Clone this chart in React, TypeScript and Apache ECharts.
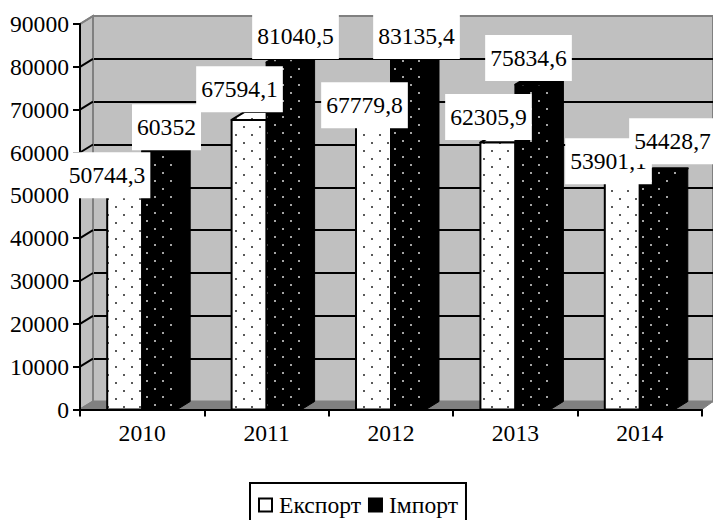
import React, { useEffect, useRef } from "react";
import * as echarts from "echarts";

const years = ["2010", "2011", "2012", "2013", "2014"];
const exportValues = [50744.3, 67594.1, 67779.8, 62305.9, 53901.1];
const importValues = [60352, 81040.5, 83135.4, 75834.6, 54428.7];
const exportName = "Експорт";
const importName = "Імпорт";

// Manual placement of the data-label boxes relative to each bar's front top centre (layout only).
const exportLabelShift = [[-17.7, -17], [-9.6, -30.8], [-9, -14], [-9.4, -25.5], [-13.8, -17.4]];
const importLabelShift = [[6.8, -23.8], [11.4, -26.3], [8, -17.3], [-4.4, -26.6], [15.2, -35.1]];

const FONT = "Liberation Serif";
const FONT_SIZE = 23.6;
const DEPTH_X = 13;
const DEPTH_Y = 8;
const BAR_W = 35;
const FRONT = { left: 80, top: 24, width: 622, height: 385.5 };

function dotPattern(bg: string, dot: string, a: number[], b: number[]) {
  const c = document.createElement("canvas");
  c.width = 16;
  c.height = 16;
  const g = c.getContext("2d")!;
  g.fillStyle = bg;
  g.fillRect(0, 0, 16, 16);
  g.fillStyle = dot;
  [a, b].forEach(([x, y]) => {
    g.beginPath();
    g.arc(x, y, 1, 0, Math.PI * 2);
    g.fill();
  });
  return { image: c, repeat: "repeat" };
}

function barRenderer(side: -1 | 1, pattern: any) {
  return (_p: any, api: any) => {
    const top = api.coord([api.value(0), api.value(1)]);
    const base = api.coord([api.value(0), 0]);
    const x0 = side < 0 ? top[0] - BAR_W : top[0];
    const x1 = x0 + BAR_W;
    const style = { fill: pattern, stroke: "#000", lineWidth: 2, lineJoin: "round" };
    return {
      type: "group",
      children: [
        {
          type: "polygon",
          shape: { points: [[x1, top[1]], [x1 + DEPTH_X, top[1] - DEPTH_Y], [x1 + DEPTH_X, base[1] - DEPTH_Y], [x1, base[1]]] },
          style: { fill: "#000", stroke: "#000", lineWidth: 1 },
        },
        {
          type: "polygon",
          shape: { points: [[x0, top[1]], [x0 + DEPTH_X, top[1] - DEPTH_Y], [x1 + DEPTH_X, top[1] - DEPTH_Y], [x1, top[1]]] },
          style,
        },
        { type: "rect", shape: { x: x0, y: top[1], width: BAR_W, height: base[1] - top[1] }, style },
      ],
    };
  };
}

function labelRenderer(side: -1 | 1, shifts: number[][]) {
  return (params: any, api: any) => {
    const top = api.coord([api.value(0), api.value(1)]);
    const s = shifts[params.dataIndex];
    return {
      type: "text",
      style: {
        text: String(api.value(1)).replace(".", ","),
        x: top[0] + (side * BAR_W) / 2 + s[0],
        y: top[1] + s[1],
        align: "center",
        verticalAlign: "middle",
        fontFamily: FONT,
        fontSize: FONT_SIZE,
        fill: "#000",
        backgroundColor: "#fff",
        padding: [11, 5, 11, 5],
      },
    };
  };
}

function toData(values: number[]) {
  return values.map((v, i) => [i, v]);
}

export default function App() {
  const ref = useRef<HTMLDivElement>(null);
  useEffect(() => {
    const chart = echarts.init(ref.current!, null, { renderer: "svg" });
    const exportFill = dotPattern("#fff", "#222", [4, 15], [12, 7]);
    const importFill = dotPattern("#000", "#ddd", [3, 13], [11, 5]);
    const axisLine = { lineStyle: { color: "#000", width: 2 } };
    const labelStyle = { fontFamily: FONT, fontSize: FONT_SIZE, color: "#000" };
    const yBase = { type: "value", min: 0, max: 90000, interval: 10000, splitLine: { show: false } };
    chart.setOption({
      animation: false,
      backgroundColor: "#fff",
      grid: [
        { ...FRONT, show: false },
        {
          left: FRONT.left + DEPTH_X,
          top: FRONT.top - DEPTH_Y,
          width: 620,
          height: FRONT.height,
          show: true,
          backgroundColor: "#c0c0c0",
          borderColor: "#808080",
          borderWidth: 2,
        },
      ],
      xAxis: [
        {
          type: "category",
          gridIndex: 0,
          data: years,
          z: 3,
          axisLine: { show: true, ...axisLine },
          axisTick: { show: true, length: 7, lineStyle: { color: "#000", width: 2 } },
          axisLabel: { ...labelStyle, margin: 11 },
        },
        { type: "category", gridIndex: 1, data: years, show: false },
      ],
      yAxis: [
        {
          ...yBase,
          gridIndex: 0,
          z: 3,
          axisLine: { show: true, ...axisLine },
          axisTick: { show: true, length: 7, lineStyle: { color: "#000", width: 2 } },
          axisLabel: { show: false },
        },
        {
          ...yBase,
          gridIndex: 0,
          position: "left",
          z: 20,
          axisLine: { show: false },
          axisTick: { show: false },
          axisLabel: { ...labelStyle, margin: 11, formatter: (v: number) => String(v) },
        },
        {
          ...yBase,
          gridIndex: 1,
          axisLine: { show: false },
          axisTick: { show: false },
          axisLabel: { show: false },
          splitLine: { show: true, showMinLine: false, showMaxLine: false, lineStyle: { color: "#000", width: 2 } },
        },
      ],
      graphic: [
        {
          type: "polygon",
          z: 1,
          shape: { points: [[80, 24], [93, 16], [93, 401.5], [80, 409.5]] },
          style: { fill: "#c0c0c0", stroke: "#808080", lineWidth: 2 },
        },
        {
          type: "polygon",
          z: 1,
          shape: { points: [[80, 409.5], [93, 401.5], [713, 401.5], [702, 409.5]] },
          style: { fill: "#808080", stroke: "#808080", lineWidth: 1 },
        },
      ],
      legend: {
        data: [exportName, importName],
        left: 250,
        top: 483,
        orient: "horizontal",
        padding: [10, 8, 20, 8],
        borderColor: "#000",
        borderWidth: 2,
        borderRadius: 0,
        backgroundColor: "#fff",
        icon: "rect",
        itemWidth: 13,
        itemHeight: 13,
        itemGap: 7,
        selectedMode: false,
        textStyle: { fontFamily: FONT, fontSize: FONT_SIZE, color: "#000", padding: [0, 0, 0, 2] },
      },
      series: [
        {
          type: "custom",
          name: "connectors",
          xAxisIndex: 0,
          yAxisIndex: 0,
          z: 2,
          silent: true,
          data: toData(Array.from({ length: 10 }, (_, i) => i * 10000)),
          encode: { x: 0, y: 1 },
          renderItem: (_p: any, api: any) => {
            const y = api.coord([0, api.value(1)])[1];
            return {
              type: "line",
              shape: { x1: FRONT.left, y1: y, x2: FRONT.left + DEPTH_X, y2: y - DEPTH_Y },
              style: { stroke: api.value(1) === 90000 || api.value(1) === 0 ? "#808080" : "#000", lineWidth: 2 },
            };
          },
        },
        {
          type: "custom",
          name: exportName,
          xAxisIndex: 0,
          yAxisIndex: 0,
          z: 5,
          data: toData(exportValues),
          encode: { x: 0, y: 1 },
          itemStyle: { color: "#fff", borderColor: "#000", borderWidth: 2 },
          renderItem: barRenderer(-1, exportFill),
        },
        {
          type: "custom",
          name: importName,
          xAxisIndex: 0,
          yAxisIndex: 0,
          z: 6,
          data: toData(importValues),
          encode: { x: 0, y: 1 },
          itemStyle: { color: "#000", borderColor: "#000", borderWidth: 2 },
          renderItem: barRenderer(1, importFill),
        },
        {
          type: "custom",
          name: "exportLabels",
          xAxisIndex: 0,
          yAxisIndex: 0,
          z: 10,
          data: toData(exportValues),
          encode: { x: 0, y: 1 },
          renderItem: labelRenderer(-1, exportLabelShift),
        },
        {
          type: "custom",
          name: "importLabels",
          xAxisIndex: 0,
          yAxisIndex: 0,
          z: 11,
          data: toData(importValues),
          encode: { x: 0, y: 1 },
          renderItem: labelRenderer(1, importLabelShift),
        },
      ],
    });
    return () => chart.dispose();
  }, []);
  return <div ref={ref} style={{ position: "fixed", left: 0, top: 0, width: 713, height: 520 }} />;
}
